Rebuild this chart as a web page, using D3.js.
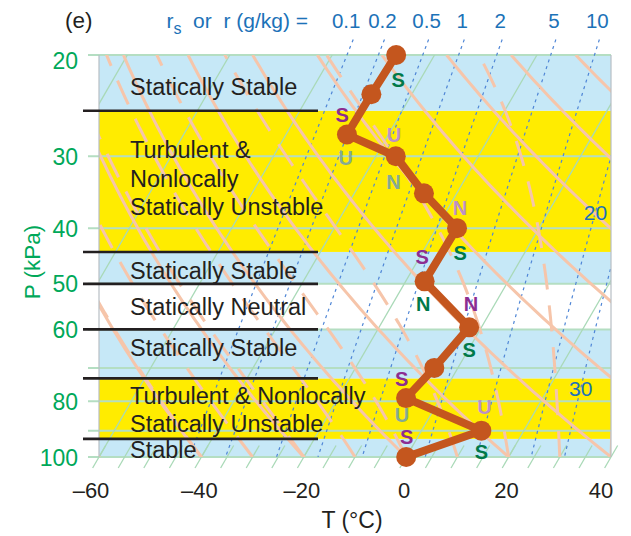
<!DOCTYPE html>
<html><head><meta charset="utf-8">
<script src="https://cdn.jsdelivr.net/npm/d3@7"></script>
<style>
body{margin:0;background:#fff;}
svg{display:block;font-family:"Liberation Sans",Arial,Helvetica,sans-serif;}
</style>
</head><body>
<svg id="c" width="631" height="536"></svg>
<script>
// ---------------- data ----------------
const soundingP = [100, 90, 79, 70, 59.5, 49.5, 40, 34.8, 30, 27.5, 23.4, 20];
const soundingT = [0, 11.7, -6.7, -4.6, -2.4, -16.3, -16.0, -26.4, -36.1, -48.1, -47.9, -47.5];

const bandEdges = [100, 93, 73, 60, 50, 44, 25, 20];
const bandKinds = ["stable", "unstable", "stable", "neutral", "stable", "unstable", "stable"];
const bandTexts = [
  ["Stable"],
  ["Turbulent & Nonlocally", "Statically Unstable"],
  ["Statically Stable"],
  ["Statically Neutral"],
  ["Statically Stable"],
  ["Turbulent &", "Nonlocally", "Statically Unstable"],
  ["Statically Stable"]
];
const boundaryP = [93, 73, 60, 50, 44, 25];

const letterChars = ["S","S","U","U","N","N","S","S","N","N","S","S","U","U","S","S"];
const letterKinds = ["g","p","gr","lp","gr","lp","g","p","g","p","g","p","gr","lp","p","g"];
const letterT = [-44.3, -51.3, -45.8, -38.9, -33.7, -17.7, -12.6, -19.6, -14.1, -4.8, 0.1, -9.8, -5.6, 9.6, -2.2, 14.1];
const letterP = [22.1, 25.4, 30.1, 27.5, 33.2, 36.9, 44.1, 44.8, 54.0, 54.0, 65.0, 73.0, 84.5, 81.8, 92.2, 97.9];

const mixingRatios = [0.1, 0.2, 0.5, 1, 2, 5, 10, 20, 30];
const topRatioLabels = ["0.1", "0.2", "0.5", "1", "2", "5", "10"];
const sideRatioLabels = ["20", "30"];
const sideRatioP = [37.5, 75.9];

const isobars = [20, 30, 40, 50, 60, 70, 80, 90, 100];
const yTickLabels = [20, 30, 40, 50, 60, 80, 100];
const xTicks = [-60, -40, -20, 0, 20, 40];
const isothermsT = d3.range(-200, 41, 20);
const isothermTicksT = d3.range(-60, 41, 5);
const dryThetaC = d3.range(-60, 181, 20);
const moistThetaWC = d3.range(-40, 41, 10);

// ---------------- layout ----------------
const svg = d3.select("#c");
const L = 99, R = 611, T0 = 55, B = 457;
const K = 0.58; // skew
const x = d3.scaleLinear().domain([-60, 40]).range([L, R]);
const y = d3.scaleLog().domain([100, 20]).range([B, T0]);
const X = (t, p) => x(t) + K * (y(100) - y(p));
const bandTextShift = [2, 1, -6, 0, 2.5, -3, 3.7];

const colors = {
  stable: "#C6E8F7", unstable: "#FFEC00", neutral: "#FFFFFF",
  isobar: "#B4DEC2", isotherm: "#A9D9B7", mix: "#4F86D6", adiab: "#F6C5AA",
  sounding: "#C4561E", black: "#231F20", green: "#00A859", blue: "#1C72B8",
  g: "#00794A", p: "#8C2D91", lp: "#BC91C8", gr: "#84AA94"
};

// thermo helpers (for background reference lines)
const tdFromMix = (r, p) => {
  const e = r * p / (622 + r);
  return 1 / (1 / 273.15 - Math.log(e / 0.6113) / 5423) - 273.15;
};
const es = tK => 0.6113 * Math.exp(5423 * (1 / 273.15 - 1 / tK));
const moistPath = (twC) => {
  const pts = [];
  let tK = twC + 273.15, lnp = Math.log(100);
  const step = -0.005;
  while (Math.exp(lnp) > 18) {
    const p = Math.exp(lnp);
    pts.push([tK - 273.15, p]);
    const e = es(tK);
    const rs = 0.622 * e / Math.max(p - e, 1e-6);
    const dTdlnp = (287 * tK + 2.5e6 * rs) / (1004 + 2.5e6 * 2.5e6 * rs * 0.622 / (287 * tK * tK));
    tK += dTdlnp * step;
    lnp += step;
  }
  return pts;
};

const defs = svg.append("defs");
defs.append("clipPath").attr("id", "plot").append("rect")
  .attr("x", L).attr("y", T0).attr("width", R - L).attr("height", B - T0);
defs.append("clipPath").attr("id", "plotTop").append("rect")
  .attr("x", L).attr("y", 36).attr("width", R - L).attr("height", B - 36);

// bands
const gb = svg.append("g");
bandKinds.forEach((k, i) => {
  gb.append("rect").attr("x", L).attr("width", R - L)
    .attr("y", y(bandEdges[i + 1])).attr("height", y(bandEdges[i]) - y(bandEdges[i + 1]))
    .attr("fill", colors[k]);
});

// isobars
svg.append("g").selectAll("line").data(isobars).join("line")
  .attr("x1", 88).attr("x2", R).attr("y1", d => y(d)).attr("y2", d => y(d))
  .attr("stroke", colors.isobar).attr("stroke-width", 2);

const line = d3.line().x(d => X(d[0], d[1])).y(d => y(d[1]));
const pSamples = d3.range(0, 81).map(i => 20 * Math.pow(105 / 20, i / 80));

// isotherms
const gI = svg.append("g").attr("clip-path", "url(#plot)");
isothermsT.forEach(t => {
  gI.append("path").attr("d", line([[t, 100], [t, 20]]))
    .attr("stroke", colors.isotherm).attr("stroke-width", 1.3).attr("fill", "none");
});
// short isotherm ticks near the bottom
svg.append("g").selectAll("path").data(isothermTicksT).join("path")
  .attr("d", t => line([[t, 104.5], [t, 95.5]]))
  .attr("stroke", colors.isotherm).attr("stroke-width", 1.3).attr("fill", "none");

// mixing ratio lines
const gM = svg.append("g").attr("clip-path", "url(#plotTop)");
mixingRatios.forEach(r => {
  const pts = d3.range(0, 61).map(i => {
    const p = 18.8 * Math.pow(100 / 18.8, i / 60);
    return [tdFromMix(r, p), p];
  });
  gM.append("path").attr("d", line(pts)).attr("fill", "none")
    .attr("stroke", colors.mix).attr("stroke-width", 1.2).attr("stroke-dasharray", "3,4");
});

// dry adiabats
const gA = svg.append("g").attr("clip-path", "url(#plot)");
dryThetaC.forEach(th => {
  const pts = pSamples.map(p => [(th + 273.15) * Math.pow(p / 100, 0.286) - 273.15, p]);
  gA.append("path").attr("d", line(pts)).attr("fill", "none")
    .attr("stroke", colors.adiab).attr("stroke-width", 3);
});
// moist adiabats
moistThetaWC.forEach(tw => {
  gA.append("path").attr("d", line(moistPath(tw))).attr("fill", "none")
    .attr("stroke", colors.adiab).attr("stroke-width", 3).attr("stroke-dasharray", "26,16");
});

// frame sides
svg.append("line").attr("x1", L).attr("x2", L).attr("y1", T0).attr("y2", B)
  .attr("stroke", "#B8BEC4").attr("stroke-width", 1.2);
svg.append("line").attr("x1", R).attr("x2", R).attr("y1", T0).attr("y2", B)
  .attr("stroke", "#B8BEC4").attr("stroke-width", 1.2);

// boundaries
svg.append("g").selectAll("line").data(boundaryP).join("line")
  .attr("x1", 83).attr("x2", 318).attr("y1", d => y(d)).attr("y2", d => y(d))
  .attr("stroke", colors.black).attr("stroke-width", 2.6);

// band texts
const gt = svg.append("g").attr("fill", colors.black).attr("font-size", 23.5);
bandTexts.forEach((lines, i) => {
  const cy = (y(bandEdges[i]) + y(bandEdges[i + 1])) / 2 + bandTextShift[i];
  const lh = 28.5;
  lines.forEach((s, j) => {
    gt.append("text").attr("x", 130)
      .attr("y", cy + (j - (lines.length - 1) / 2) * lh + 8.5)
      .text(s);
  });
});

// sounding
const snd = soundingP.map((p, i) => [soundingT[i], p]);
svg.append("path").attr("d", line(snd)).attr("fill", "none")
  .attr("stroke", colors.sounding).attr("stroke-width", 8).attr("stroke-linejoin", "round");
svg.append("g").selectAll("circle").data(snd).join("circle")
  .attr("cx", d => X(d[0], d[1])).attr("cy", d => y(d[1])).attr("r", 10)
  .attr("fill", colors.sounding);

// stability letters
svg.append("g").selectAll("text").data(letterChars).join("text")
  .attr("x", (d, i) => X(letterT[i], letterP[i]))
  .attr("y", (d, i) => y(letterP[i]) + 7.5)
  .attr("text-anchor", "middle").attr("font-weight", "bold").attr("font-size", 20)
  .attr("fill", (d, i) => colors[letterKinds[i]]).text(d => d);

// y ticks
svg.append("g").selectAll("text").data(yTickLabels).join("text")
  .attr("x", 78).attr("y", d => y(d) + (d === 20 ? 14 : 8.5))
  .attr("text-anchor", "end").attr("font-size", 23).attr("fill", colors.green).text(d => d);
svg.append("text").attr("transform", "translate(40,262) rotate(-90)")
  .attr("text-anchor", "middle").attr("font-size", 22.5).attr("fill", colors.green).text("P (kPa)");

// x ticks
svg.append("g").selectAll("text").data(xTicks).join("text")
  .attr("x", d => x(d) + (d === -60 ? -8 : d === 40 ? -10 : -2)).attr("y", 498)
  .attr("text-anchor", "middle").attr("font-size", 22).attr("fill", colors.black)
  .text(d => (d < 0 ? "\u2013" + Math.abs(d) : d));
svg.append("text").attr("x", 352).attr("y", 528).attr("text-anchor", "middle")
  .attr("font-size", 23).attr("fill", colors.black).text("T (\u00B0C)");

// header
svg.append("text").attr("x", 65).attr("y", 28).attr("font-size", 22.5).attr("fill", colors.black).text("(e)");
const topX = topRatioLabels.map((s, i) => X(tdFromMix(mixingRatios[i], 18.8), 18.8));
svg.append("g").selectAll("text").data(topRatioLabels).join("text")
  .attr("x", (d, i) => topX[i] - (i === 0 ? 7 : 2)).attr("y", 28).attr("text-anchor", "middle")
  .attr("font-size", 20.5).attr("fill", colors.blue).text(d => d);
const hdr = svg.append("text").attr("x", 308).attr("y", 28).attr("text-anchor", "end")
  .attr("font-size", 21).attr("fill", colors.blue);
hdr.append("tspan").text("r");
hdr.append("tspan").attr("dy", 6).attr("font-size", 16).text("s");
hdr.append("tspan").attr("dy", -6).text("\u00A0 or\u00A0 r (g/kg) =");

// side ratio labels
svg.append("g").selectAll("text").data(sideRatioLabels).join("text")
  .attr("x", (d, i) => X(tdFromMix(mixingRatios[7 + i], sideRatioP[i]), sideRatioP[i]))
  .attr("y", (d, i) => y(sideRatioP[i]) + 8).attr("text-anchor", "middle")
  .attr("font-size", 21).attr("fill", colors.blue).text(d => d);
</script>
</body></html>
